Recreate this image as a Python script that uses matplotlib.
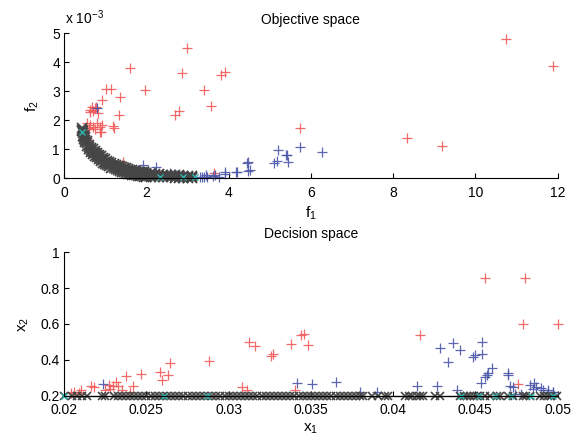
import numpy as np
import matplotlib
matplotlib.use('Agg')
import matplotlib.pyplot as plt
from matplotlib.ticker import FuncFormatter

plt.rcParams['font.family'] = ['Liberation Sans', 'DejaVu Sans']
plt.rcParams['mathtext.fontset'] = 'custom'
plt.rcParams['mathtext.rm'] = 'Liberation Sans'
plt.rcParams['mathtext.it'] = 'Liberation Sans'

# objective space, f2 values in real units (plotted as x 10^-3)
obj_red_f1 = [2.99, 1.59, 2.87, 3.82, 3.92, 1.01, 1.15, 1.97, 3.40, 0.93, 1.36, 3.57,
              0.62, 0.78, 0.82, 2.80, 2.70, 1.33, 1.18, 1.20, 0.90, 1.43, 1.36, 5.74,
              8.33, 9.18, 10.75, 11.89, 3.65, 0.67, 0.75, 0.63, 0.71, 0.55, 0.63, 0.71,
              0.79, 0.87, 0.51, 0.87, 0.91, 0.60, 0.75, 0.55]
obj_red_f2 = [4.48, 3.81, 3.62, 3.56, 3.68, 3.07, 3.07, 3.04, 3.04, 2.70, 2.79, 2.49,
              2.36, 2.45, 2.26, 2.32, 2.19, 2.18, 1.80, 1.75, 1.61, 0.57, 0.45, 1.72,
              1.38, 1.12, 4.79, 3.88, 0.17, 2.47, 2.41, 2.30, 2.33, 1.90, 1.84, 1.78,
              1.90, 1.78, 1.72, 1.61, 1.84, 1.75, 1.70, 1.32]
obj_blue_f1 = [0.80, 1.91, 2.24, 2.05, 4.45, 4.48, 4.52, 4.46, 4.18, 4.20, 3.91, 3.90,
               5.19, 5.39, 5.74, 6.27, 5.11, 5.17, 5.45, 5.43, 3.41, 3.61, 3.77, 3.67,
               3.47, 3.35, 2.57, 2.74, 3.30, 3.45]
obj_blue_f2 = [2.41, 0.46, 0.40, 0.29, 0.54, 0.57, 0.29, 0.26, 0.23, 0.20, 0.23, 0.14,
               0.98, 0.80, 1.09, 0.92, 0.54, 0.60, 0.57, 0.80, 0.06, 0.08, 0.03, 0.11,
               0.06, 0.03, 0.17, 0.11, 0.05, 0.12]
front_f1 = [0.43, 0.45, 0.48, 0.51, 0.55, 0.60, 0.65, 0.70, 0.75, 0.80, 0.85, 0.90,
            0.95, 1.00, 1.05, 1.10, 1.15, 1.20, 1.25, 1.30, 1.35, 1.40, 1.45, 1.50,
            1.55, 1.60, 1.65, 1.70, 1.75, 1.80, 1.85, 1.90, 1.95, 2.00, 2.10, 2.20,
            2.30, 2.40, 2.50, 2.60, 2.70, 2.80, 2.90, 3.00, 3.10]
front_f2_hi = [1.72, 1.62, 1.50, 1.41, 1.28, 1.16, 1.06, 1.00, 0.94, 0.88, 0.82, 0.76,
               0.70, 0.65, 0.61, 0.57, 0.53, 0.50, 0.47, 0.44, 0.41, 0.38, 0.36, 0.34,
               0.32, 0.30, 0.28, 0.26, 0.24, 0.23, 0.22, 0.21, 0.20, 0.19, 0.17, 0.15,
               0.14, 0.13, 0.12, 0.11, 0.10, 0.10, 0.09, 0.09, 0.08]
front_f2_mid = [1.67, 1.55, 1.42, 1.33, 1.20, 1.08, 0.98, 0.92, 0.86, 0.80, 0.74, 0.68,
                0.62, 0.57, 0.53, 0.49, 0.45, 0.42, 0.39, 0.36, 0.33, 0.30, 0.28, 0.26,
                0.24, 0.22, 0.20, 0.19, 0.17, 0.16, 0.15, 0.14, 0.13, 0.12, 0.11, 0.10,
                0.09, 0.085, 0.08, 0.075, 0.07, 0.065, 0.06, 0.055, 0.05]
front_f2_lo = [1.62, 1.47, 1.34, 1.25, 1.12, 1.00, 0.90, 0.84, 0.78, 0.72, 0.66, 0.60,
               0.54, 0.49, 0.45, 0.41, 0.37, 0.34, 0.31, 0.28, 0.25, 0.22, 0.20, 0.18,
               0.16, 0.14, 0.12, 0.12, 0.10, 0.09, 0.08, 0.07, 0.06, 0.05, 0.05, 0.04,
               0.03, 0.03, 0.03, 0.03, 0.02, 0.02, 0.02, 0.02, 0.02]
obj_cyan_f1 = [0.43, 2.33, 2.90, 3.18]
obj_cyan_f2 = [1.61, 0.06, 0.06, 0.06]

# decision space
dec_red_x1 = [0.03122, 0.03163, 0.03255, 0.03269, 0.03377, 0.03438, 0.03456, 0.03484,
              0.02878, 0.02643, 0.02633, 0.02581, 0.02592, 0.02469, 0.02378, 0.02419,
              0.02316, 0.02296, 0.02327, 0.0227, 0.0228, 0.02163, 0.02184, 0.02102,
              0.02092, 0.02041, 0.02061, 0.03081, 0.03112, 0.04561, 0.04805, 0.04791,
              0.05, 0.04165, 0.04762, 0.03404, 0.0225, 0.0235, 0.0240]
dec_red_x2 = [0.501, 0.477, 0.422, 0.433, 0.488, 0.539, 0.544, 0.483,
              0.394, 0.384, 0.316, 0.334, 0.288, 0.319, 0.310, 0.254,
              0.278, 0.256, 0.256, 0.26, 0.24, 0.254, 0.247, 0.232,
              0.213, 0.213, 0.222, 0.25, 0.232, 0.855, 0.855, 0.598,
              0.598, 0.539, 0.265, 0.232, 0.23, 0.23, 0.22]
dec_blue_x1 = [0.02238, 0.03413, 0.03505, 0.03653, 0.04285, 0.04367, 0.04407, 0.04539,
               0.04539, 0.04483, 0.04497, 0.04331, 0.04599, 0.04579, 0.04559, 0.04570,
               0.04701, 0.04700, 0.04534, 0.04712, 0.04143, 0.04265, 0.04387, 0.04858,
               0.04868, 0.0483, 0.0490, 0.0494, 0.0497, 0.0478, 0.0474, 0.0380,
               0.0390, 0.0473, 0.04914, 0.04944, 0.04975, 0.0485]
dec_blue_x2 = [0.264, 0.27, 0.264, 0.275, 0.468, 0.492, 0.455, 0.501,
               0.433, 0.418, 0.427, 0.39, 0.353, 0.325, 0.306, 0.316,
               0.328, 0.316, 0.27, 0.256, 0.256, 0.256, 0.232, 0.27,
               0.25, 0.26, 0.241, 0.232, 0.222, 0.21, 0.21, 0.222,
               0.222, 0.25, 0.232, 0.222, 0.219, 0.24]
dec_gray_x1 = [0.0200, 0.0205, 0.0208, 0.0211, 0.0214, 0.0223, 0.0225,
               0.02300, 0.02325, 0.02350, 0.02375, 0.02400, 0.02425, 0.02450, 0.02475,
               0.02500, 0.02525, 0.02550, 0.02575, 0.02600, 0.02625, 0.02650, 0.02675,
               0.02700, 0.02725, 0.02750, 0.02775, 0.02800, 0.02825, 0.02850, 0.02875,
               0.02900, 0.02925, 0.02950, 0.02975, 0.03000, 0.03025, 0.03050, 0.03075,
               0.03100, 0.03125, 0.03150, 0.03175, 0.03200, 0.03225, 0.03250, 0.03275,
               0.03300, 0.03325, 0.03350, 0.03375, 0.03400, 0.03425, 0.03450, 0.03475,
               0.03500, 0.03525, 0.03550, 0.03575, 0.03600, 0.03625, 0.03650, 0.03675,
               0.03700, 0.03725, 0.03750, 0.03775, 0.03800, 0.03817,
               0.03872, 0.03908, 0.0395, 0.03968, 0.04073, 0.04095, 0.04116, 0.04146,
               0.04164, 0.04182, 0.04256, 0.04286, 0.04407, 0.0443, 0.0445, 0.04468,
               0.0449, 0.0451, 0.04529, 0.0456, 0.0459, 0.04632, 0.0465, 0.04698,
               0.0473, 0.0479, 0.0481, 0.04833, 0.04894, 0.0492, 0.0494, 0.0496, 0.04998]
dec_gray_x2 = [0.2] * len(dec_gray_x1)
dec_cyan_x1 = [0.0200, 0.0261, 0.0287, 0.0441, 0.0452, 0.0462, 0.0472, 0.0484, 0.0497]
dec_cyan_x2 = [0.2] * len(dec_cyan_x1)

RED = '#f25a5a'
BLUE = '#4a55a8'
GRAY = '#454545'
CYAN = '#2ab5b0'

fig = plt.figure(figsize=(5.74, 4.37), dpi=100)
ax1 = fig.add_axes([0.1118, 0.592, 0.8595, 0.3318])
ax2 = fig.add_axes([0.1118, 0.0945, 0.8595, 0.3282])

def style(ax):
    for s in ('top', 'right'):
        ax.spines[s].set_visible(False)
    ax.spines['left'].set_linewidth(0.8)
    ax.spines['bottom'].set_linewidth(0.8)
    ax.tick_params(direction='in', length=3.5, width=0.8, labelsize=10)
    ax.tick_params(axis='x', pad=5.5)
    ax.tick_params(axis='y', pad=3)

e3 = 1e-3
plus = dict(marker='+', ls='none', ms=7.5, mew=0.9, clip_on=False)
cross = dict(marker='x', ls='none', ms=6.5, mew=1.3, clip_on=False)

# objective space
ax1.plot(obj_red_f1, np.array(obj_red_f2) * e3, color=RED, alpha=0.9, **plus)
ax1.plot(obj_blue_f1, np.array(obj_blue_f2) * e3, color=BLUE, alpha=0.9, **plus)
for f2_row in (front_f2_hi, front_f2_mid, front_f2_lo):
    ax1.plot(front_f1, np.array(f2_row) * e3, color=GRAY, **cross)
ax1.plot(obj_cyan_f1, np.array(obj_cyan_f2) * e3, color=CYAN, marker='x', ls='none',
         ms=4, mew=1.0, clip_on=False)
ax1.set_xlim(0, 12)
ax1.set_ylim(0, 5e-3)
ax1.set_xticks(range(0, 13, 2))
ax1.set_yticks(np.arange(6) * e3)
ax1.yaxis.set_major_formatter(FuncFormatter(lambda v, p: '%g' % round(v / e3, 6)))
style(ax1)
ax1.set_title('Objective space', fontsize=10, pad=7)
ax1.set_xlabel(r'$\mathregular{f_1}$', fontsize=11, labelpad=3)
ax1.set_ylabel(r'$\mathregular{f_2}$', fontsize=11, labelpad=8)
fig.text(0.113, 0.946, r'x 10$^{\mathregular{-3}}$', fontsize=10, ha='left', va='baseline')

# decision space
ax2.plot(dec_red_x1, dec_red_x2, color=RED, alpha=0.9, **plus)
ax2.plot(dec_blue_x1, dec_blue_x2, color=BLUE, alpha=0.9, **plus)
ax2.plot(dec_gray_x1, dec_gray_x2, color=GRAY, marker='x', ls='-', lw=1.0, ms=6,
         mew=1.2, clip_on=False)
ax2.plot(dec_cyan_x1, dec_cyan_x2, color=CYAN, marker='x', ls='none', ms=4, mew=1.0,
         clip_on=False)
ax2.set_xlim(0.02, 0.05)
ax2.set_ylim(0.2, 1)
ax2.set_xticks([0.02, 0.025, 0.03, 0.035, 0.04, 0.045, 0.05])
ax2.set_yticks([0.2, 0.4, 0.6, 0.8, 1.0])
ax2.xaxis.set_major_formatter(FuncFormatter(lambda v, p: '%g' % round(v, 6)))
ax2.yaxis.set_major_formatter(FuncFormatter(lambda v, p: '%g' % round(v, 6)))
style(ax2)
ax2.set_title('Decision space', fontsize=10, pad=10)
ax2.set_xlabel(r'$\mathregular{x_1}$', fontsize=11, labelpad=3)
ax2.set_ylabel(r'$\mathregular{x_2}$', fontsize=11, labelpad=7)

fig.savefig('out.png', dpi=100)
